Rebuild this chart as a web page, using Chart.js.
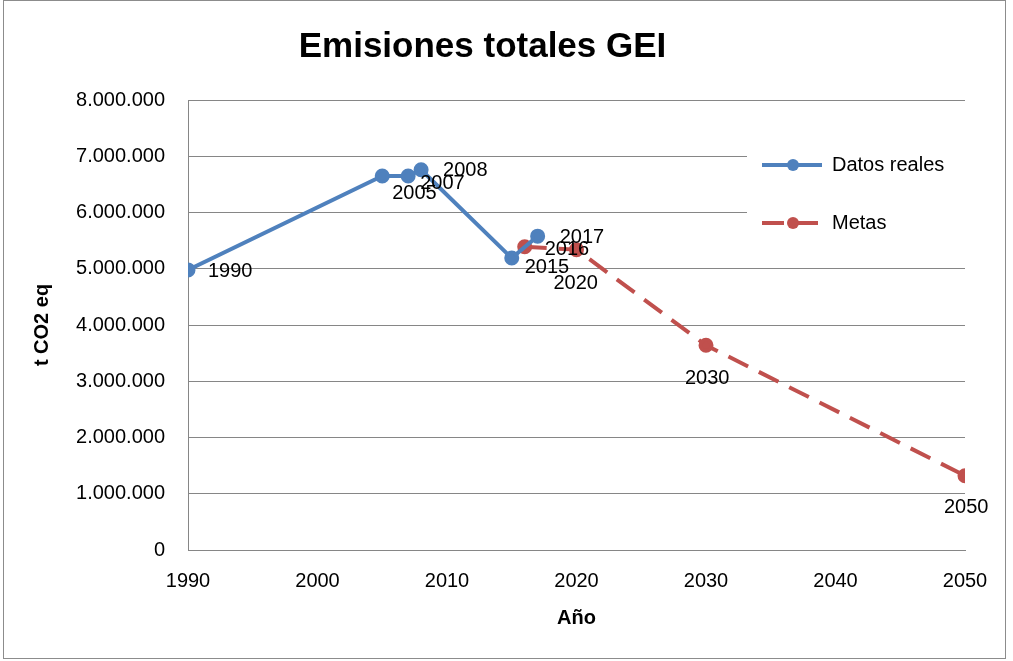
<!DOCTYPE html>
<html>
<head>
<meta charset="utf-8">
<script src="https://cdn.jsdelivr.net/npm/chart.js@4.4.1/dist/chart.umd.min.js"></script>
<style>
  html, body { margin: 0; padding: 0; background: #fff; }
  canvas { display: block; }
</style>
</head>
<body>
<canvas id="geiChart" width="1013" height="661"></canvas>
<script>
// emisiones reales y metas (t CO2 eq)
const realYears = [1990, 2005, 2007, 2008, 2015, 2017];
const realValues = [4980000, 6650000, 6650000, 6760000, 5190000, 5580000];
const goalYears = [2016, 2020, 2030, 2050];
const goalValues = [5390000, 5340000, 3640000, 1320000];
const xTickValues = [1990, 2000, 2010, 2020, 2030, 2040, 2050];
const yTickValues = [0, 1000000, 2000000, 3000000, 4000000, 5000000, 6000000, 7000000, 8000000];

const blue = '#4f81bd';
const red = '#c0504d';

function puntos(xs, ys) {
    return xs.map((x, i) => ({ x: x, y: ys[i] }));
}

function miles(v) {
    return String(v).replace(/\B(?=(\d{3})+(?!\d))/g, '.');
}

Chart.defaults.font.family = "'Liberation Sans', Arial, sans-serif";
Chart.defaults.color = '#000';

// etiquetas con el año junto a cada punto
const yearLabels = {
    id: 'yearLabels',
    afterDatasetsDraw(chart, args, opts) {
        const ctx = chart.ctx;
        ctx.save();
        ctx.font = "20px 'Liberation Sans', Arial, sans-serif";
        ctx.fillStyle = '#000';
        ctx.textAlign = 'left';
        ctx.textBaseline = 'middle';
        chart.data.datasets.forEach((ds, di) => {
            const meta = chart.getDatasetMeta(di);
            meta.data.forEach((pt, i) => {
                const off = opts.offsets[di][i];
                ctx.fillText(String(ds.data[i].x), pt.x + off[0], pt.y + off[1]);
            });
        });
        ctx.restore();
    }
};

// leyenda dentro del área del gráfico
const boxLegend = {
    id: 'boxLegend',
    beforeDatasetsDraw(chart, args, opts) {
        const ctx = chart.ctx;
        ctx.save();
        ctx.fillStyle = '#fff';
        ctx.fillRect(opts.x - 15, opts.y - 33, chart.chartArea.right - opts.x + 17, 118);
        ctx.restore();
    },
    afterDatasetsDraw(chart, args, opts) {
        const ctx = chart.ctx;
        ctx.save();
        ctx.font = "20px 'Liberation Sans', Arial, sans-serif";
        ctx.textBaseline = 'middle';
        chart.data.datasets.forEach((ds, i) => {
            const y = opts.y + i * opts.gap;
            ctx.strokeStyle = ds.borderColor;
            ctx.lineWidth = ds.borderWidth;
            ctx.setLineDash(ds.borderDash || []);
            ctx.beginPath();
            ctx.moveTo(opts.x, y);
            ctx.lineTo(opts.x + 60, y);
            ctx.stroke();
            ctx.setLineDash([]);
            ctx.fillStyle = ds.pointBackgroundColor;
            ctx.beginPath();
            ctx.arc(opts.x + 31, y, 6, 0, Math.PI * 2);
            ctx.fill();
            ctx.fillStyle = '#000';
            ctx.fillText(ds.label, opts.x + 70, y);
        });
        ctx.restore();
    }
};

const frame = {
    id: 'frame',
    afterDraw(chart) {
        const ctx = chart.ctx;
        ctx.save();
        ctx.strokeStyle = '#8c8c8c';
        ctx.lineWidth = 1;
        ctx.strokeRect(3.5, 0.5, 1002, 658);
        ctx.restore();
    }
};

const ctx = document.getElementById('geiChart').getContext('2d');
new Chart(ctx, {
    type: 'line',
    data: {
        datasets: [{
            label: 'Datos reales',
            data: puntos(realYears, realValues),
            borderColor: blue,
            backgroundColor: blue,
            pointBackgroundColor: blue,
            pointBorderColor: blue,
            borderWidth: 4,
            pointRadius: 5.5,
            tension: 0
        }, {
            label: 'Metas',
            data: puntos(goalYears, goalValues),
            borderColor: red,
            backgroundColor: red,
            pointBackgroundColor: red,
            pointBorderColor: red,
            borderWidth: 4,
            borderDash: [22, 12],
            pointRadius: 5.5,
            tension: 0
        }]
    },
    options: {
        responsive: false,
        animation: false,
        layout: {
            padding: { top: 0, right: 48, bottom: 0, left: 0 }
        },
        scales: {
            x: {
                type: 'linear',
                min: 1990,
                max: 2050,
                afterBuildTicks: (scale) => {
                    scale.ticks = xTickValues.map(v => ({ value: v }));
                },
                afterFit: (scale) => { scale.height = 111; },
                ticks: {
                    padding: 19,
                    font: { size: 20 },
                    callback: (v) => String(v)
                },
                grid: { display: false, drawTicks: false },
                border: { display: true, color: '#868686', width: 1 },
                title: {
                    display: true,
                    text: 'Año',
                    font: { size: 20, weight: 'bold' },
                    padding: { top: 31, bottom: 31 }
                }
            },
            y: {
                min: 0,
                max: 8000000,
                afterBuildTicks: (scale) => {
                    scale.ticks = yTickValues.map(v => ({ value: v }));
                },
                afterFit: (scale) => { scale.width = 188; },
                ticks: {
                    padding: 23,
                    font: { size: 20 },
                    callback: (v) => miles(v)
                },
                grid: { color: '#868686', drawTicks: false },
                border: { display: true, color: '#868686', width: 1 },
                title: {
                    display: true,
                    text: 't CO2 eq',
                    font: { size: 20, weight: 'bold' },
                    padding: { top: 30, bottom: 0 }
                }
            }
        },
        plugins: {
            legend: { display: false },
            tooltip: { enabled: false },
            title: {
                display: true,
                text: 'Emisiones totales GEI',
                font: { size: 35, weight: 'bold' },
                color: '#000',
                padding: { top: 26, bottom: 32 }
            },
            yearLabels: {
                offsets: [
                    [[20, 2], [10, 18], [12, 8], [22, 1], [13, 9], [22, 1]],
                    [[20, 3], [-23, 34], [-21, 33], [-21, 32]]
                ]
            },
            boxLegend: { x: 762, y: 165, gap: 58 }
        }
    },
    plugins: [yearLabels, boxLegend, frame]
});
</script>
</body>
</html>
